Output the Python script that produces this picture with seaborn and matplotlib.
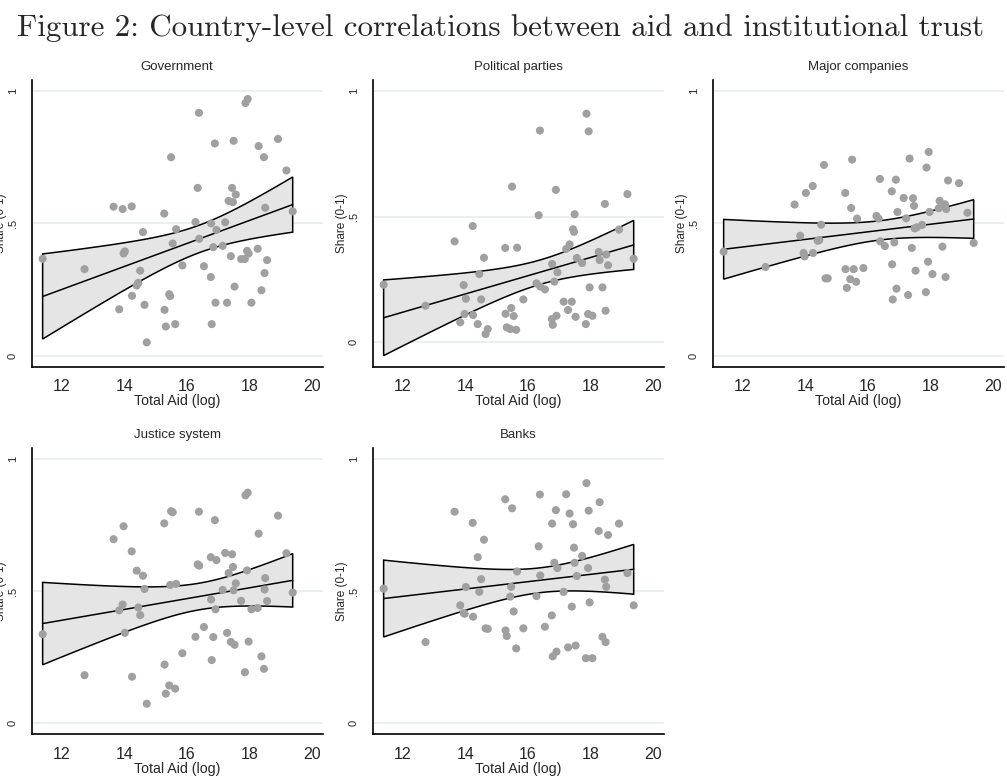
import numpy as np
import pandas as pd
import matplotlib
matplotlib.use("Agg")
import matplotlib.pyplot as plt
import seaborn as sns

# --- data: one x per country, one y array per institution ---
aid_log = [11.39, 12.73, 13.66, 13.84, 13.95, 13.98, 14.02, 14.24, 14.25, 14.40,
           14.45, 14.51, 14.60, 14.65, 14.72, 15.28, 15.29, 15.33, 15.44, 15.47,
           15.50, 15.55, 15.63, 15.66, 15.86, 16.28, 16.35, 16.39, 16.40, 16.55,
           16.77, 16.78, 16.80, 16.85, 16.90, 16.92, 16.95, 17.15, 17.23, 17.29,
           17.34, 17.41, 17.45, 17.48, 17.50, 17.53, 17.57, 17.74, 17.86, 17.88,
           17.93, 17.95, 17.98, 18.07, 18.27, 18.30, 18.39, 18.47, 18.49, 18.51,
           18.57, 18.92, 19.19, 19.39]

trust_government = [0.366, 0.327, 0.563, 0.175, 0.554, 0.386, 0.394, 0.564, 0.226, 0.265,
                    0.275, 0.321, 0.467, 0.192, 0.050, 0.537, 0.173, 0.110, 0.232, 0.225,
                    0.750, 0.424, 0.119, 0.478, 0.341, 0.505, 0.634, 0.918, 0.442, 0.338,
                    0.297, 0.500, 0.119, 0.410, 0.802, 0.200, 0.475, 0.415, 0.504, 0.200,
                    0.585, 0.376, 0.634, 0.580, 0.812, 0.261, 0.609, 0.365, 0.365, 0.955,
                    0.396, 0.970, 0.386, 0.200, 0.404, 0.792, 0.247, 0.750, 0.312, 0.559,
                    0.361, 0.819, 0.700, 0.545]

trust_parties = [0.230, 0.146, 0.402, 0.080, 0.228, 0.113, 0.174, 0.463, 0.109, 0.073,
                 0.272, 0.171, 0.337, 0.033, 0.053, 0.376, 0.114, 0.060, 0.053, 0.137,
                 0.620, 0.105, 0.050, 0.377, 0.171, 0.235, 0.506, 0.843, 0.222, 0.211,
                 0.093, 0.312, 0.070, 0.242, 0.607, 0.106, 0.279, 0.162, 0.372, 0.129,
                 0.390, 0.162, 0.450, 0.440, 0.510, 0.102, 0.336, 0.316, 0.073, 0.910,
                 0.113, 0.840, 0.219, 0.106, 0.360, 0.328, 0.219, 0.551, 0.126, 0.350,
                 0.307, 0.449, 0.590, 0.333]

trust_companies = [0.393, 0.335, 0.571, 0.453, 0.388, 0.375, 0.615, 0.641, 0.388, 0.434,
                   0.437, 0.495, 0.721, 0.292, 0.292, 0.615, 0.327, 0.256, 0.289, 0.558,
                   0.741, 0.327, 0.279, 0.518, 0.331, 0.528, 0.518, 0.668, 0.432, 0.414,
                   0.621, 0.345, 0.212, 0.428, 0.665, 0.253, 0.543, 0.596, 0.519, 0.229,
                   0.745, 0.407, 0.595, 0.566, 0.481, 0.321, 0.485, 0.494, 0.240, 0.711,
                   0.355, 0.770, 0.543, 0.308, 0.557, 0.585, 0.412, 0.572, 0.297, 0.554,
                   0.662, 0.652, 0.540, 0.426]

trust_justice = [0.337, 0.182, 0.696, 0.427, 0.449, 0.745, 0.342, 0.650, 0.176, 0.577,
                 0.438, 0.409, 0.558, 0.508, 0.074, 0.756, 0.222, 0.112, 0.143, 0.523,
                 0.802, 0.798, 0.131, 0.527, 0.265, 0.327, 0.601, 0.800, 0.596, 0.364,
                 0.628, 0.468, 0.239, 0.326, 0.768, 0.431, 0.617, 0.504, 0.644, 0.342,
                 0.568, 0.308, 0.639, 0.591, 0.503, 0.297, 0.529, 0.463, 0.193, 0.862,
                 0.578, 0.872, 0.309, 0.431, 0.436, 0.717, 0.253, 0.206, 0.506, 0.549,
                 0.462, 0.785, 0.643, 0.494]

trust_banks = [0.509, 0.307, 0.800, 0.446, 0.417, 0.414, 0.515, 0.758, 0.403, 0.628,
               0.497, 0.545, 0.694, 0.359, 0.357, 0.847, 0.351, 0.330, 0.479, 0.516,
               0.813, 0.423, 0.283, 0.574, 0.359, 0.481, 0.669, 0.865, 0.559, 0.365,
               0.408, 0.755, 0.253, 0.607, 0.806, 0.271, 0.587, 0.497, 0.866, 0.287,
               0.793, 0.441, 0.753, 0.664, 0.607, 0.294, 0.557, 0.633, 0.246, 0.908,
               0.587, 0.804, 0.457, 0.246, 0.727, 0.836, 0.327, 0.543, 0.307, 0.516,
               0.712, 0.755, 0.568, 0.446]

panel_titles = ["Government", "Political parties", "Major companies",
                "Justice system", "Banks"]
panel_values = [trust_government, trust_parties, trust_companies,
                trust_justice, trust_banks]
ytick_values = [0, 0.5, 1]
ytick_labels = ["0", ".5", "1"]
xtick_values = [12, 14, 16, 18, 20]

sns.set_theme(style="white")
plt.rcParams["font.family"] = ["Liberation Sans", "DejaVu Sans"]

W, H = 1007, 777
fig = plt.figure(figsize=(W / 100, H / 100), dpi=100)
fig.text(0.4975, 1 - 28 / H, "Figure 2: Country-level correlations between aid and institutional trust",
         ha="center", va="center", fontsize=22.3, family=["cmr10", "DejaVu Serif"])

# axes boxes in pixels (left, top)
col_left = [31.7, 372.7, 712.7]
row_top = [80, 447.7]
ax_w, ax_h = 291, 286.7

T95 = 1.999  # t(0.975, df=62)


def lfit_ci(x, y, n=100):
    """OLS fit with 95% CI of the mean prediction (like Stata lfitci)."""
    x = np.asarray(x)
    y = np.asarray(y)
    b1, b0 = np.polyfit(x, y, 1)
    resid = y - (b0 + b1 * x)
    s2 = (resid ** 2).sum() / (len(x) - 2)
    sxx = ((x - x.mean()) ** 2).sum()
    grid = np.linspace(x.min(), x.max(), n)
    fit = b0 + b1 * grid
    se = np.sqrt(s2 * (1 / len(x) + (grid - x.mean()) ** 2 / sxx))
    return grid, fit, fit - T95 * se, fit + T95 * se


for i, (title, vals) in enumerate(zip(panel_titles, panel_values)):
    r, c = divmod(i, 3)
    left, top = col_left[c], row_top[r]
    ax = fig.add_axes([left / W, 1 - (top + ax_h) / H, ax_w / W, ax_h / H])

    df = pd.DataFrame({"aid": aid_log, "share": vals})
    grid, fit, lo, hi = lfit_ci(df["aid"], df["share"])

    ylo = min(0, lo.min())
    yhi = max(1, hi.max())
    pad = 0.042 * (yhi - ylo)

    for yv in ytick_values:
        ax.axhline(yv, color="#E6EEF0", lw=1.2, zorder=0)

    ax.fill(np.r_[grid, grid[::-1]], np.r_[hi, lo[::-1]],
            facecolor="#E5E5E5", edgecolor="black", lw=1.1, zorder=1)
    sns.lineplot(x=grid, y=fit, color="black", lw=1.1, ax=ax, zorder=2)
    sns.scatterplot(data=df, x="aid", y="share", color="#A0A0A0", s=34,
                    edgecolor="none", ax=ax, zorder=3)

    ax.set_xlim(11.04, 20.35)
    ax.set_ylim(ylo - pad, yhi + pad)
    ax.set_xticks(xtick_values)
    ax.set_xticklabels([str(v) for v in xtick_values], fontsize=11.5)
    ax.set_yticks(ytick_values)
    ax.set_yticklabels(ytick_labels, fontsize=8, rotation=90, va="center")
    ax.tick_params(axis="x", length=5, width=1, color="#333333", pad=4)
    ax.tick_params(axis="y", length=7, width=1, color="#666666", pad=3)

    ax.set_title(title, fontsize=9.5, pad=7)
    ax.set_xlabel("Total Aid (log)", fontsize=10.2, labelpad=0)
    ax.set_ylabel("Share (0-1)", fontsize=8.5, labelpad=0.5)

    sns.despine(ax=ax)
    for s in ("left", "bottom"):
        ax.spines[s].set_color("black")
        ax.spines[s].set_linewidth(1.2)

fig.savefig("out.png", dpi=100, facecolor="white")
